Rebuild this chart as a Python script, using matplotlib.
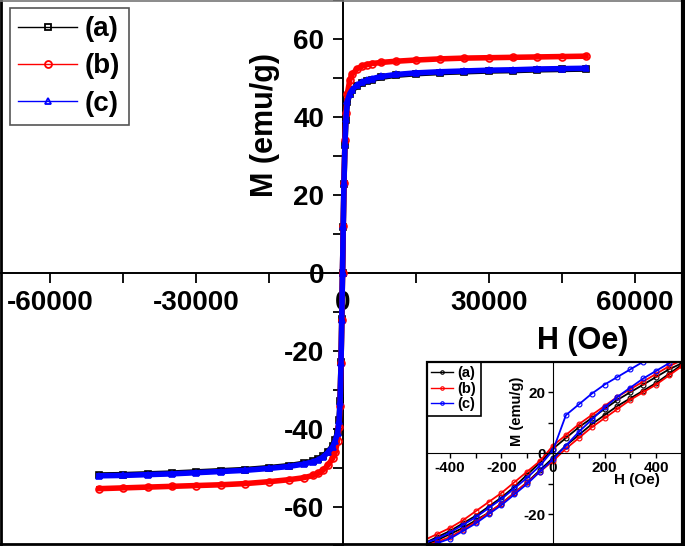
import matplotlib
matplotlib.use("Agg")
import matplotlib.pyplot as plt
from matplotlib.lines import Line2D
from matplotlib.patches import Rectangle
from matplotlib.ticker import MultipleLocator

plt.rcParams['font.family'] = ['Liberation Sans', 'DejaVu Sans']
plt.rcParams['font.weight'] = 'bold'

# ---------------- main loop data (H in Oe, M in emu/g) ----------------
H_main = [-50000, -45000, -40000, -35000, -30000, -25000, -20000, -15000, -11000, -8000,
          -6000, -5000, -4000, -3000, -2000, -1500, -1000, -700, -500, -300, -150, 0,
          150, 300, 500, 700, 1000, 1500, 2000, 3000, 4000, 5000, 6000, 8000, 11000,
          15000, 20000, 25000, 30000, 35000, 40000, 45000, 50000]
M_a = [-51.8, -51.7, -51.5, -51.3, -51.0, -50.7, -50.4, -49.9, -49.4, -48.8,
       -48.2, -47.7, -47.0, -45.8, -44.3, -42.8, -40.8, -37.8, -32.8, -22.9, -11.9, 0.0,
       11.9, 22.9, 32.8, 39.3, 43.8, 45.8, 46.8, 48.0, 48.7, 49.2, 49.6, 50.2, 50.7,
       51.1, 51.4, 51.6, 51.8, 51.9, 52.1, 52.2, 52.3]
M_b = [-55.3, -55.1, -54.9, -54.7, -54.5, -54.3, -54.0, -53.5, -53.0, -52.5,
       -51.9, -51.4, -50.6, -49.3, -47.5, -46.0, -43.0, -39.5, -34.0, -23.0, -12.0, 0.0,
       12.0, 23.0, 34.0, 41.0, 46.0, 49.5, 51.0, 52.3, 53.0, 53.4, 53.7, 54.0, 54.3,
       54.6, 54.9, 55.1, 55.2, 55.3, 55.4, 55.5, 55.6]
M_c = [-52.0, -51.9, -51.7, -51.5, -51.2, -50.9, -50.6, -50.1, -49.6, -49.0,
       -48.4, -47.9, -47.2, -46.0, -44.5, -43.0, -41.0, -38.0, -33.0, -23.0, -12.0, 0.0,
       12.0, 23.0, 33.0, 39.5, 44.0, 46.0, 47.0, 48.2, 48.9, 49.4, 49.8, 50.4, 50.9,
       51.3, 51.6, 51.8, 52.0, 52.1, 52.3, 52.4, 52.5]

# ---------------- inset (low field) data ----------------
H_in = [-500, -450, -400, -350, -300, -250, -200, -150, -100, -50, 0,
        50, 100, 150, 200, 250, 300, 350, 400, 450, 500]
Ma_up = [-30.0, -28.5, -26.5, -24.5, -22.0, -19.5, -16.5, -13.0, -9.5, -5.5, -1.5,
         2.5, 6.0, 9.5, 12.5, 15.5, 18.0, 20.5, 23.0, 26.0, 29.0]
Ma_down = [-29.5, -27.5, -25.5, -23.0, -20.5, -17.5, -14.5, -11.0, -7.0, -3.0, 1.5,
           5.0, 8.5, 11.5, 14.5, 17.5, 20.0, 22.5, 25.0, 27.5, 29.5]
Mb_up = [-30.5, -29.0, -27.5, -25.0, -22.5, -19.5, -16.5, -13.0, -9.5, -6.0, -2.5,
         1.5, 5.0, 8.5, 11.5, 14.5, 17.5, 20.0, 22.5, 25.5, 28.5]
Mb_down = [-28.5, -26.5, -24.5, -22.0, -19.0, -16.0, -13.0, -9.5, -6.0, -2.5, 2.5,
           6.0, 9.5, 12.5, 15.5, 18.5, 21.0, 23.5, 26.0, 28.5, 30.5]
Mc_up = [-31.0, -29.5, -28.0, -25.5, -23.0, -20.0, -17.0, -13.5, -10.0, -6.0, -2.0,
         2.5, 7.0, 11.0, 15.0, 18.5, 21.5, 24.5, 27.0, 29.5, 32.0]
Mc_down = [-29.5, -28.0, -26.0, -23.5, -21.0, -18.0, -15.0, -11.5, -8.0, -4.0, 1.0,
           12.5, 16.0, 19.5, 22.5, 25.0, 27.5, 30.0, 31.5, 33.0, 34.0]

labels = ['(a)', '(b)', '(c)']
colors = ['black', 'red', 'blue']
markers = ['s', 'o', '^']

W, Hpx = 685, 546
fig = plt.figure(figsize=(W / 100, Hpx / 100), dpi=100)
fig.patch.set_facecolor('white')

# ---------------- main axes ----------------
ax = fig.add_axes([0, 0, 1, 1])
ax.set_xlim(-70300, 70300)
ax.set_ylim(-70, 70)
for s in ['top', 'right']:
    ax.spines[s].set_visible(False)
ax.spines['left'].set_position(('data', 0))
ax.spines['bottom'].set_position(('data', 0))
ax.spines['left'].set_linewidth(1.4)
ax.spines['bottom'].set_linewidth(1.4)

for M, c, m, z in zip([M_a, M_b, M_c], colors, markers, [2, 3, 4]):
    ax.plot(H_main, M, color=c, lw=4.0, marker=m, ms=5, mfc='none', mew=1.2, zorder=z)

ax.xaxis.set_major_locator(MultipleLocator(30000))
ax.xaxis.set_minor_locator(MultipleLocator(15000))
ax.yaxis.set_major_locator(MultipleLocator(20))
ax.yaxis.set_minor_locator(MultipleLocator(10))
ax.tick_params(axis='both', which='major', direction='out', length=7, width=1.3,
               labelsize=20)
ax.tick_params(axis='both', which='minor', direction='out', length=7, width=1.3)
ax.tick_params(axis='y', which='major', pad=6)
ax.tick_params(axis='x', which='major', pad=5)
ax.set_xticks([-60000, -30000, 0, 30000, 60000])
ax.set_xticklabels(['-60000', '-30000', '0', '30000', '60000'], fontweight='bold')
ax.set_yticks([-60, -40, -20, 0, 20, 40, 60])
ax.set_yticklabels(['-60', '-40', '-20', '0', '20', '40', '60'], fontweight='bold')

fig.text(265 / W, 1 - 125 / Hpx, 'M (emu/g)', rotation=90, ha='center', va='center',
         fontsize=22, fontweight='bold')
fig.text(583 / W, 1 - 341 / Hpx, 'H (Oe)', ha='center', va='center',
         fontsize=22, fontweight='bold')

handles = [Line2D([], [], color=c, lw=1.0, marker=m, ms=5, mfc='none', mew=1.3)
           for c, m in zip(colors, markers)]
leg = ax.legend(handles, labels, loc='upper left', bbox_to_anchor=(10 / W, 1 - 8 / Hpx),
                bbox_transform=fig.transFigure, borderaxespad=0,
                prop={'weight': 'bold', 'size': 20}, handlelength=2.1, handletextpad=0.3,
                labelspacing=0.4, borderpad=0.3, fancybox=False, framealpha=1,
                edgecolor='#555555')
leg.get_frame().set_linewidth(1.2)
leg.set_zorder(10)

# ---------------- inset ----------------
axin = fig.add_axes([427 / W, 0, (W - 427) / W, 184 / Hpx])
axin.set_xlim(-489, 512)
axin.set_ylim(-30.4, 29.9)
for s in ['top', 'right']:
    axin.spines[s].set_visible(False)
axin.spines['left'].set_position(('data', 0))
axin.spines['bottom'].set_position(('data', 0))
axin.add_patch(Rectangle((0, 0), 1, 1, transform=axin.transAxes, fill=False,
                         ec='black', lw=1.6, zorder=20, clip_on=False))

for (up, down), c in zip([(Ma_up, Ma_down), (Mb_up, Mb_down), (Mc_up, Mc_down)], colors):
    axin.plot(H_in, up, color=c, lw=1.3, marker='o', ms=3.5, mfc='none', mew=0.8)
    axin.plot(H_in, down, color=c, lw=1.3, marker='o', ms=3.5, mfc='none', mew=0.8)

axin.set_xticks([-400, -200, 0, 200, 400])
axin.set_xticklabels(['-400', '-200', '0', '200', '400'], fontweight='bold')
axin.xaxis.set_minor_locator(MultipleLocator(100))
axin.set_yticks([-20, 0, 20])
axin.set_yticklabels(['-20', '0', '20'], fontweight='bold')
axin.yaxis.set_minor_locator(MultipleLocator(10))
axin.tick_params(axis='both', which='both', direction='out', length=3.5, width=1.0,
                 labelsize=11, pad=2)

fig.text(517 / W, 1 - 411 / Hpx, 'M (emu/g)', rotation=90, ha='center', va='center',
         fontsize=10.5, fontweight='bold')
fig.text(637 / W, 1 - 480 / Hpx, 'H (Oe)', ha='center', va='center',
         fontsize=11, fontweight='bold')

hin = [Line2D([], [], color=c, lw=1.0, marker='o', ms=2.5, mfc='none', mew=0.8)
       for c in colors]
legin = axin.legend(hin, labels, loc='upper left', bbox_to_anchor=(0, 1),
                    borderaxespad=0, prop={'weight': 'bold', 'size': 10.5},
                    handlelength=1.5, handletextpad=0.3, labelspacing=0.1,
                    borderpad=0.3, fancybox=False, framealpha=1, edgecolor='black')
legin.get_frame().set_linewidth(1.2)

# ---------------- outer frame ----------------
fig.add_artist(Line2D([0.0015, 0.0015], [0, 1], transform=fig.transFigure, color='black', lw=2))
fig.add_artist(Line2D([0, 1], [0.998, 0.998], transform=fig.transFigure, color='#777777', lw=1.2))
fig.add_artist(Line2D([0.997, 0.997], [0, 1], transform=fig.transFigure, color='black', lw=3))
fig.add_artist(Line2D([0, 1], [0.003, 0.003], transform=fig.transFigure, color='black', lw=2))

fig.savefig('out.png', dpi=100, facecolor='white')
